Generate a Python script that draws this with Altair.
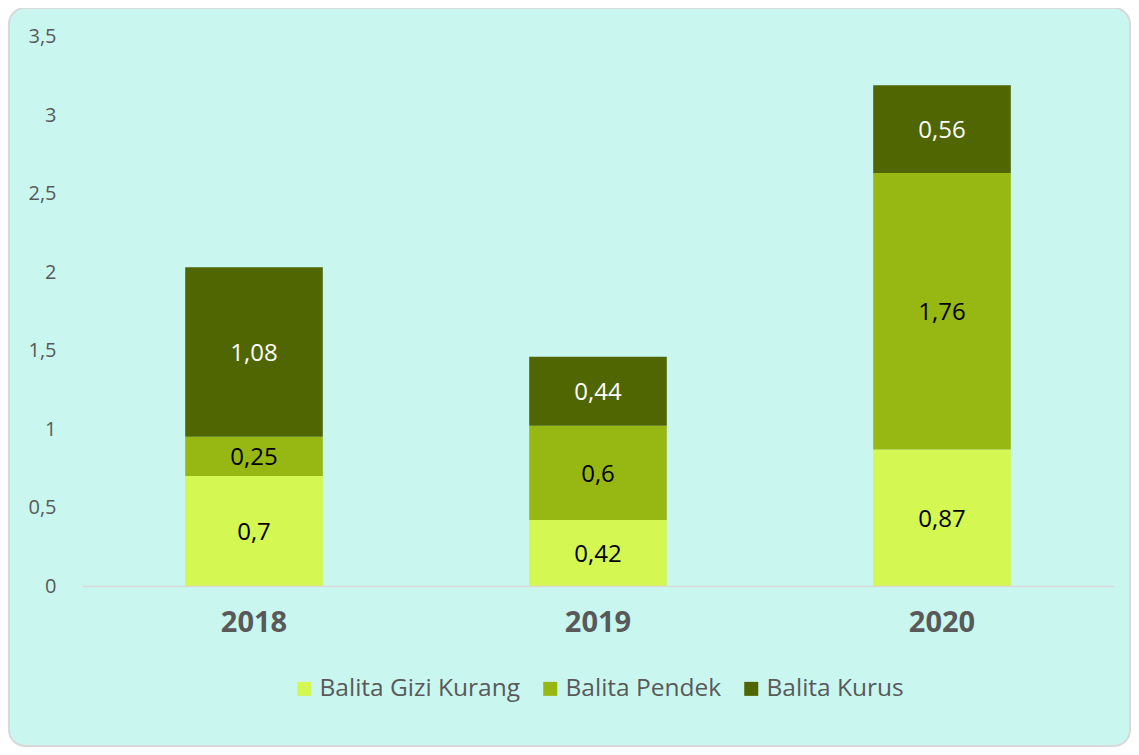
import altair as alt
import pandas as pd

years = ["2018", "2019", "2020"]
series = ["Balita Gizi Kurang", "Balita Pendek", "Balita Kurus"]
gizi_kurang = [0.7, 0.42, 0.87]
pendek = [0.25, 0.6, 1.76]
kurus = [1.08, 0.44, 0.56]
colors = ["#D4F752", "#97B713", "#4F6602"]
y_ticks = [0, 0.5, 1, 1.5, 2, 2.5, 3, 3.5]

rows = []
for i, yr in enumerate(years):
    for k, (s, vals) in enumerate(zip(series, [gizi_kurang, pendek, kurus])):
        rows.append({"year": yr, "series": s, "value": vals[i], "order": k,
                     "label": str(vals[i]).replace(".", ",")})
df = pd.DataFrame(rows)

W, H = 1032, 549.5
PAD = {"left": 74, "top": 28.5, "right": 17, "bottom": 161}
FONT = "Open Sans"
GREY = "#595959"

bg = alt.Chart(alt.Data(values=[{}])).mark_rect(
    fill="#C9F7F0", stroke="#D9D9D9", strokeWidth=2, cornerRadius=16
).encode(
    x=alt.value(-73), x2=alt.value(W + 16),
    y=alt.value(-28.5), y2=alt.value(H + 160),
)

base = alt.Chart(df)
bars = base.mark_bar().encode(
    x=alt.X("year:N", sort=years,
            scale=alt.Scale(paddingInner=0.6, paddingOuter=0.3),
            axis=alt.Axis(title=None, labelAngle=0, labelFont=FONT, labelFontSize=29,
                          labelFontWeight="bold", labelColor=GREY, labelPadding=22,
                          ticks=False, domainColor="#D9D9D9", domainWidth=1.5, zindex=1)),
    y=alt.Y("value:Q", stack="zero", scale=alt.Scale(domain=[0, 3.5], nice=False),
            axis=alt.Axis(title=None, values=y_ticks, grid=False, domain=False, ticks=False,
                          labelFont=FONT, labelFontSize=20, labelColor=GREY, labelPadding=26,
                          zindex=1,
                          labelExpr="replace(format(datum.value, '~g'), '.', ',')")),
    color=alt.Color("series:N", sort=series,
                    scale=alt.Scale(domain=series, range=colors),
                    legend=alt.Legend(title=None, orient="none", legendX=210, legendY=640,
                                      direction="horizontal", columns=3, symbolType="square",
                                      symbolSize=196, symbolStrokeWidth=0, labelFont=FONT,
                                      labelFontSize=24.5, labelColor=GREY, columnPadding=17,
                                      labelOffset=3, labelLimit=400)),
    order=alt.Order("order:Q", sort="ascending"),
)

labels = base.transform_stack(
    stack="value", groupby=["year"], as_=["y0", "y1"],
    sort=[alt.SortField("order", "ascending")]
).transform_calculate(
    mid="(datum.y0 + datum.y1) / 2"
).mark_text(font=FONT, fontSize=24, dy=2).encode(
    x=alt.X("year:N", sort=years),
    y=alt.Y("mid:Q"),
    text=alt.Text("label:N"),
    color=alt.condition("datum.series == 'Balita Kurus'", alt.value("white"), alt.value("black")),
)

chart = alt.layer(bg, bars, labels).properties(
    width=W, height=H, padding=PAD,
    autosize=alt.AutoSizeParams(type="none"),
    background="white",
).configure_view(stroke=None)

chart.save("out.html", embed_options={"renderer": "svg", "actions": False})
